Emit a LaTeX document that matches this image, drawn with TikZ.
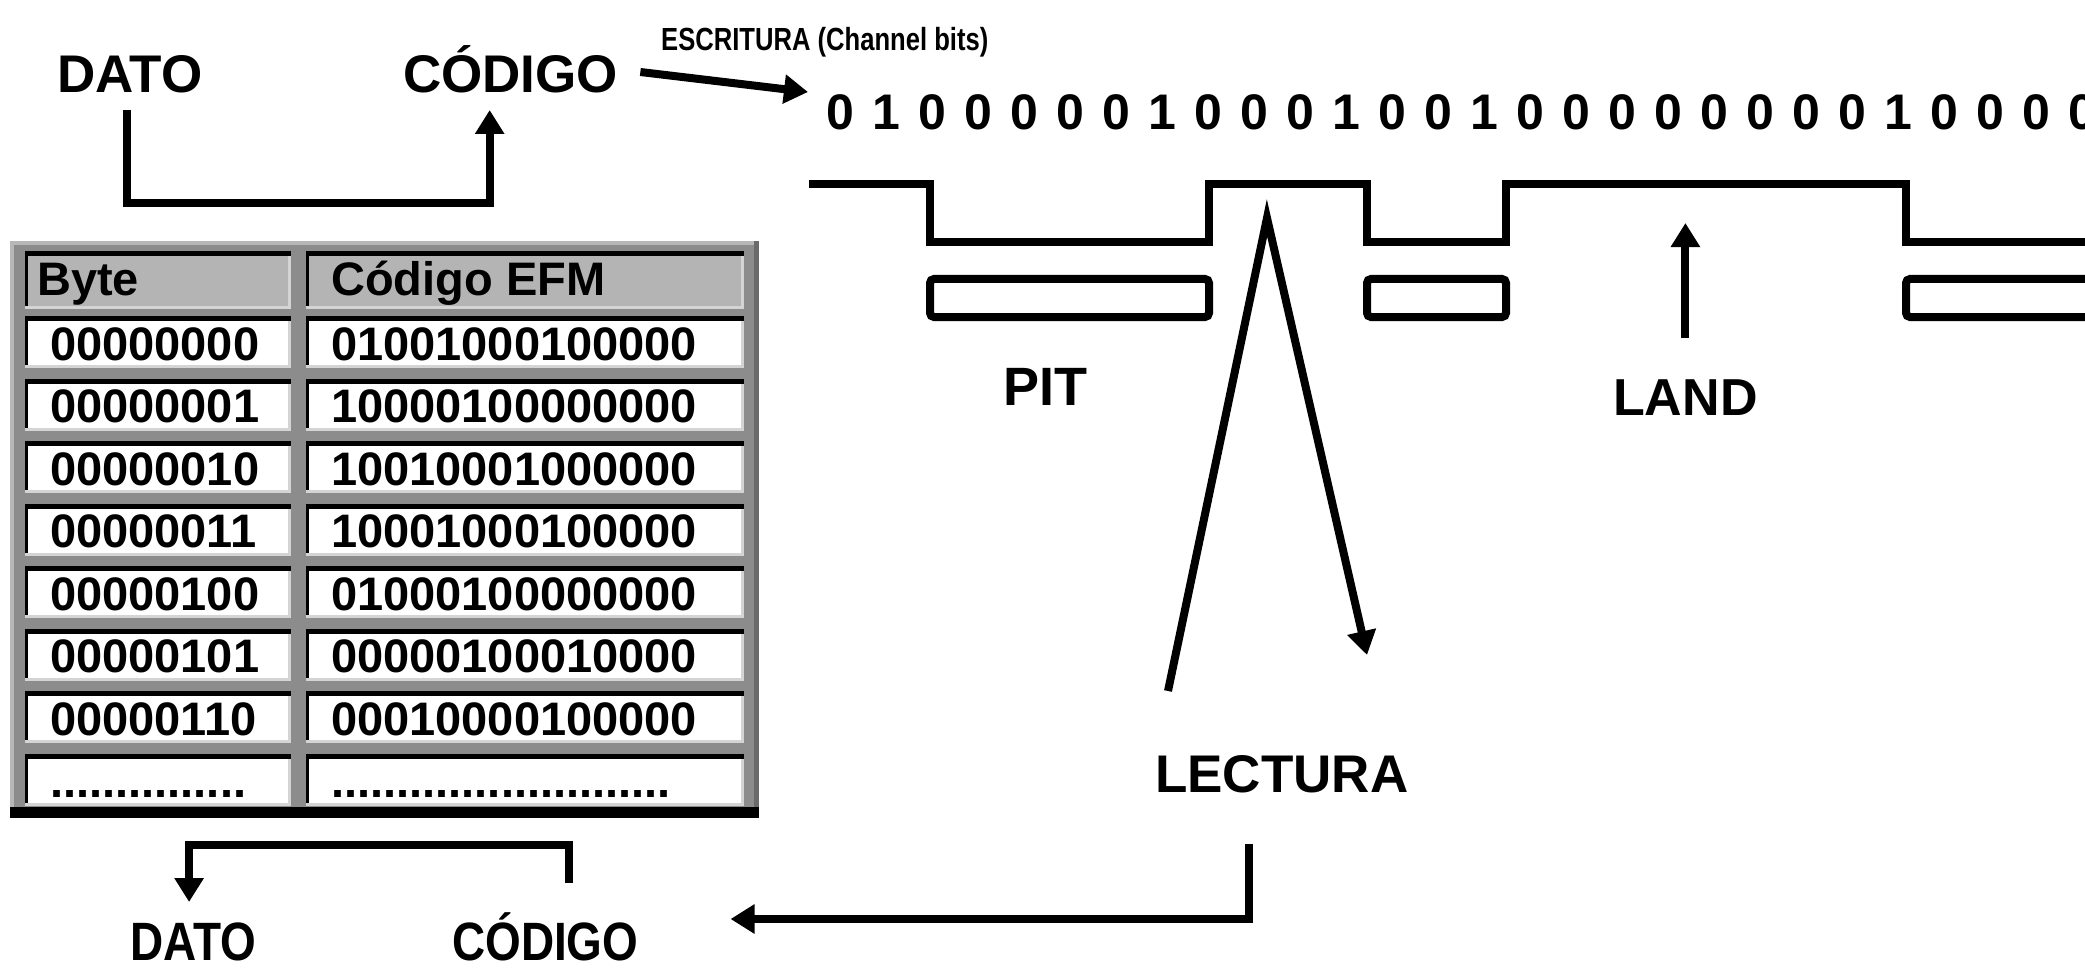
\documentclass[tikz,border=0pt]{standalone}
\usepackage{fontspec}
\setmainfont{Liberation Sans}
\newfontfamily\condfont[FakeStretch=0.85]{Liberation Sans}
\newfontfamily\narrowfont[FakeStretch=0.8]{Liberation Sans}
\usetikzlibrary{arrows.meta}
\definecolor{framegray}{HTML}{8C8C8C}
\definecolor{headgray}{HTML}{B4B4B4}
\definecolor{litegray}{HTML}{D4D4D4}
\definecolor{shadegray}{HTML}{6A6A6A}
\newcommand\efmcell[5]{%
  \fill[#5] (#1,#2) rectangle (#3,#4);
  \fill[black] (#1,#2) rectangle (#3,#2+5);
  \fill[black] (#1,#2) rectangle (#1+3,#4);
  \fill[litegray] (#1,#4-3) rectangle (#3,#4);
  \fill[litegray] (#3-3,#2+5) rectangle (#3,#4);
}
\newcommand\efmdotsA{...............}
\newcommand\efmdotsB{..........................}
\begin{document}
\begin{tikzpicture}[x=1pt,y=-1pt,
  txt/.style={inner sep=0pt, anchor=base west, text=black},
  toplbl/.style={txt, font=\fontsize{53}{58}\selectfont\bfseries},
  botlbl/.style={txt, font=\condfont\fontsize{54}{60}\selectfont\bfseries},
  esclbl/.style={txt, font=\narrowfont\fontsize{32}{36}\selectfont\bfseries},
  bitlbl/.style={inner sep=0pt, anchor=base, font=\fontsize{50}{56}\selectfont\bfseries},
  biglbl/.style={txt, font=\fontsize{52}{58}\selectfont\bfseries},
  tbl/.style={txt, font=\fontsize{47}{52}\selectfont\bfseries},
  conn/.style={line width=8pt, draw=black, line join=miter},
  tip/.style={-{Triangle[length=24pt,width=28pt]}},
  wave/.style={line width=8pt, line join=miter},
]
\useasboundingbox (0,0) rectangle (2085,968);
\fill[white] (0,0) rectangle (2085,968);

% ---- top labels and bracket
\node[toplbl] (dato1) at (57,93) {DATO};
\node[toplbl] (cod1) at (403,93) {CÓDIGO};
\draw[conn,tip] ([xshift=-3pt,yshift=-17pt]dato1.base) |- ([xshift=-21pt,yshift=-110pt]cod1.base) -- ([xshift=-21pt,yshift=-17pt]cod1.base);

% ---- writing
\node[esclbl] (esc) at (661,51) {ESCRITURA (Channel bits)};
\foreach \b [count=\i from 0] in {0,1,0,0,0,0,0,1,0,0,0,1,0,0,1,0,0,0,0,0,0,0,0,1,0,0,0,0}
  \node[bitlbl] (bit\i) at ({840+46*\i},130) {\b};
\draw[conn,tip] ([xshift=22pt,yshift=21pt]cod1.base east) -- ([xshift=-32pt,yshift=38pt]bit0.base);

% ---- track profile
\draw[wave] (809,184) -- (930,184) -- (930,242) -- (1209,242) -- (1209,184) -- (1367,184) -- (1367,242) -- (1506,242) -- (1506,184) -- (1906,184) -- (1906,242) -- (2110,242);
\draw[wave, rounded corners=4pt] (930,279) rectangle (1209,317);
\draw[wave, rounded corners=4pt] (1367,279) rectangle (1506,317);
\draw[wave, rounded corners=4pt] (1906,279) rectangle (2140,317);

\node[biglbl, font=\fontsize{54}{60}\selectfont\bfseries] (pit) at (1003,405) {PIT};
\node[biglbl] (land) at (1613,415) {LAND};
\draw[conn,tip] ([yshift=41pt]land.north) -- ([yshift=156pt]land.north);

% ---- reading beam
\coordinate (beamL) at (1168,691);
\coordinate (apex) at (1267,218);
\coordinate (beamR) at (1367,655);
\draw[conn,tip] (beamL) -- (apex) -- (beamR);

\node[biglbl, font=\fontsize{53}{58}\selectfont\bfseries] (lect) at (1155,792) {LECTURA};

% ---- bottom labels
\node[botlbl] (dato2) at (130,960) {DATO};
\node[botlbl] (cod2) at (452,960) {CÓDIGO};
\draw[conn,tip] ([xshift=-33pt,yshift=-51pt]lect.south) |- ([xshift=92pt,yshift=41pt]cod2.base east);
\draw[conn,tip] ([xshift=24pt,yshift=77pt]cod2.base) -- ([xshift=24pt,yshift=115pt]cod2.base) -| ([xshift=-4pt,yshift=58pt]dato2.base);

% ---- table
\fill[framegray] (10,241) rectangle (759,818);
\fill[litegray!60!framegray] (10,241) rectangle (759,245);
\fill[litegray!60!framegray] (10,241) rectangle (14,818);
\fill[shadegray] (754,241) rectangle (759,818);
\fill[black] (10,807) rectangle (759,818);
\efmcell{25}{251}{291}{309}{headgray}
\efmcell{306}{251}{744}{309}{headgray}
\node[tbl] (hbyte) at (37,295) {Byte};
\node[tbl] (hefm) at (331,295) {Código EFM};
\foreach \a/\b [count=\k from 0] in {00000000/01001000100000,00000001/10000100000000,00000010/10010001000000,00000011/10001000100000,00000100/01000100000000,00000101/00000100010000,00000110/00010000100000,\efmdotsA/\efmdotsB}{
  \pgfmathsetmacro\t{316+62.5*\k}
  \efmcell{25}{\t}{291}{\t+52}{white}
  \efmcell{306}{\t}{744}{\t+52}{white}
  \node[tbl] (ra\k) at (50,\t+44) {\a};
  \node[tbl] (rb\k) at (331,\t+44) {\b};
}
\end{tikzpicture}
\end{document}
